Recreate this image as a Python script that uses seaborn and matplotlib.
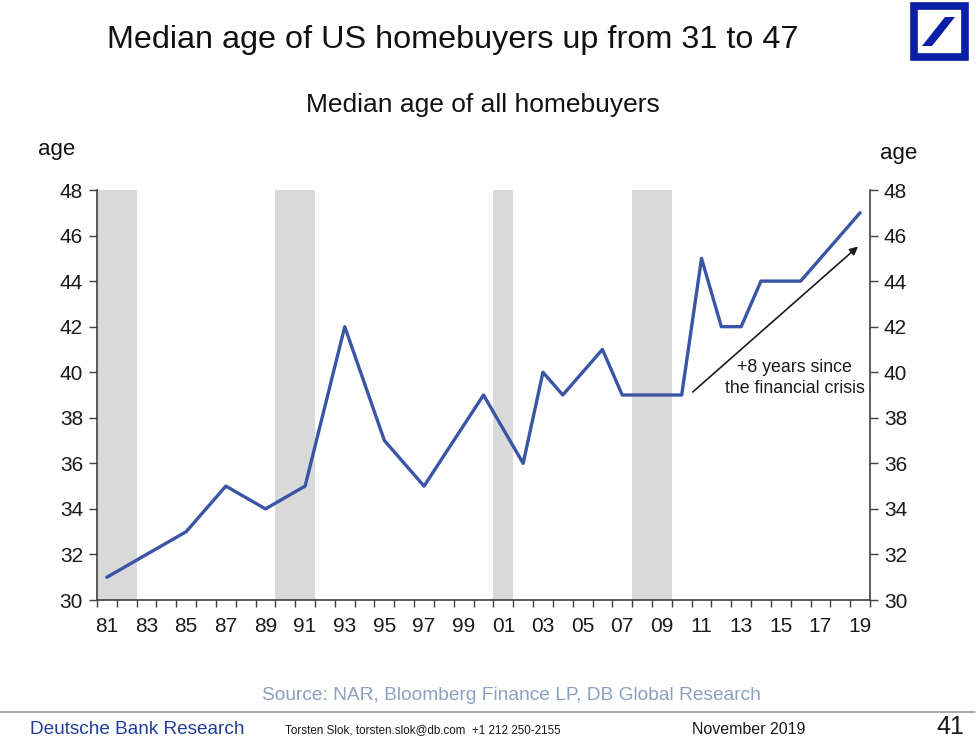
import matplotlib
matplotlib.use("Agg")
import matplotlib.pyplot as plt
import matplotlib.patches as mpatches
from matplotlib.lines import Line2D
from matplotlib import font_manager
import numpy as np
import pandas as pd
import seaborn as sns

# ---------------- data ----------------
years = [1981, 1985, 1987, 1989, 1991, 1993, 1995, 1997, 2000, 2002, 2003,
         2004, 2006, 2007, 2010, 2011, 2012, 2013, 2014, 2016, 2019]
median_age = [31, 33, 35, 34, 35, 42, 37, 35, 39, 36, 40,
              39, 41, 39, 39, 45, 42, 42, 44, 44, 47]
recession_starts = [1981, 1990, 2001, 2008]
recession_ends = [1982, 1991, 2001, 2009]
tick_years = list(range(1981, 2020, 2))
tick_labels = [f"{y % 100:02d}" for y in tick_years]
y_ticks = [30, 32, 34, 36, 38, 40, 42, 44, 46, 48]

title = "Median age of US homebuyers up from 31 to 47"
subtitle = "Median age of all homebuyers"
annotation = "+8 years since\nthe financial crisis"
source = "Source: NAR, Bloomberg Finance LP, DB Global Research"

# ---------------- style ----------------
sns.set_style("white")
plt.rcParams["font.family"] = ["Liberation Sans", "DejaVu Sans"]

installed = {f.name for f in font_manager.fontManager.ttflist}
narrow = "Liberation Sans Narrow" if "Liberation Sans Narrow" in installed else None

df = pd.DataFrame({"year": years, "age": median_age})

fig = plt.figure(figsize=(9.8, 7.4), dpi=100)
ax = fig.add_axes([97 / 980, 1 - 600 / 740, (870 - 97) / 980, (600 - 190) / 740])

for s, e in zip(recession_starts, recession_ends):
    ax.axvspan(s - 0.5, e + 0.5, color="#d9d9d9", lw=0, zorder=0)

sns.lineplot(data=df, x="year", y="age", ax=ax, color="#3b55a6",
             linewidth=2.4, zorder=3)

ax.set_xlim(1980.5, 2019.5)
ax.set_ylim(30, 48)
ax.set_xlabel("")
ax.set_ylabel("")

# x: tick marks at category boundaries, labels at centers
ax.set_xticks(np.arange(1980.5, 2020, 1.0))
ax.set_xticklabels([])
ax.set_xticks(tick_years, minor=True)
ax.set_xticklabels(tick_labels, minor=True)
ax.tick_params(axis="x", which="major", direction="out", length=5, width=1,
               color="#404040", bottom=True)
ax.tick_params(axis="x", which="minor", length=0, pad=12, labelsize=15,
               labelcolor="#1a1a1a", bottom=True)

ax.set_yticks(y_ticks)
ax.set_yticklabels([str(v) for v in y_ticks])
ax.tick_params(axis="y", which="major", direction="out", length=6, width=1,
               color="#404040", left=True, right=True, labelleft=True,
               labelright=True, labelsize=15, labelcolor="#1a1a1a", pad=4)

for side in ["left", "right", "bottom"]:
    ax.spines[side].set_visible(True)
    ax.spines[side].set_color("#404040")
    ax.spines[side].set_linewidth(1.2)
ax.spines["top"].set_visible(False)

# annotation arrow
ax.annotate("", xy=(2019.0, 45.6), xytext=(2010.45, 39.05),
            arrowprops=dict(arrowstyle="-|>", color="#1a1a1a", lw=1.2,
                            mutation_scale=12))
ax.text(2015.7, 39.75, annotation, ha="center", va="center", fontsize=12.8,
        color="#1a1a1a", linespacing=1.3)

# titles and labels
fig.text(453 / 980, 1 - 40 / 740, title, ha="center", va="center",
         fontsize=23.3, color="#111111")
fig.text(483 / 980, 1 - 105 / 740, subtitle, ha="center", va="center",
         fontsize=19, color="#111111")
fig.text(57 / 980, 1 - 150 / 740, "age", ha="center", va="center",
         fontsize=16, color="#111111")
fig.text(899 / 980, 1 - 153 / 740, "age", ha="center", va="center",
         fontsize=16, color="#111111")

fig.text(511 / 980, 1 - 695 / 740, source, ha="center", va="center",
         fontsize=13.8, color="#8d9fbf")

# footer rule and text
fig.add_artist(Line2D([0.0, 975 / 980], [1 - 712 / 740, 1 - 712 / 740],
                      transform=fig.transFigure, color="#9a9a9a", lw=1.2))
fig.text(30 / 980, 1 - 729 / 740, "Deutsche Bank Research", ha="left",
         va="center", fontsize=13.7, color="#1f3f97")
if narrow:
    fig.text(285 / 980, 1 - 730 / 740,
             "Torsten Slok, torsten.slok@db.com  +1 212 250-2155", ha="left",
             va="center", fontsize=12, color="#1a1a1a", family=narrow)
    fig.text(692 / 980, 1 - 730 / 740, "November 2019", ha="left", va="center",
             fontsize=12.5, color="#1a1a1a", family=narrow)
else:
    fig.text(285 / 980, 1 - 730 / 740,
             "Torsten Slok, torsten.slok@db.com  +1 212 250-2155", ha="left",
             va="center", fontsize=8.4, color="#1a1a1a")
    fig.text(692 / 980, 1 - 730 / 740, "November 2019", ha="left", va="center",
             fontsize=11.5, color="#1a1a1a")
fig.text(950 / 980, 1 - 727 / 740, "41", ha="center", va="center",
         fontsize=18, color="#1a1a1a")

# logo
db_blue = "#0a1fa6"
fig.add_artist(mpatches.Rectangle((914 / 980, 1 - 57 / 740), 51 / 980, 51 / 740,
                                  transform=fig.transFigure, fill=False,
                                  edgecolor=db_blue, lw=5.5))
slash = mpatches.Polygon([(922 / 980, 1 - 46 / 740), (932 / 980, 1 - 46 / 740),
                          (955 / 980, 1 - 17 / 740), (945 / 980, 1 - 17 / 740)],
                         closed=True, transform=fig.transFigure,
                         facecolor=db_blue, edgecolor="none")
fig.add_artist(slash)

fig.savefig("out.png", dpi=100, facecolor="white")
